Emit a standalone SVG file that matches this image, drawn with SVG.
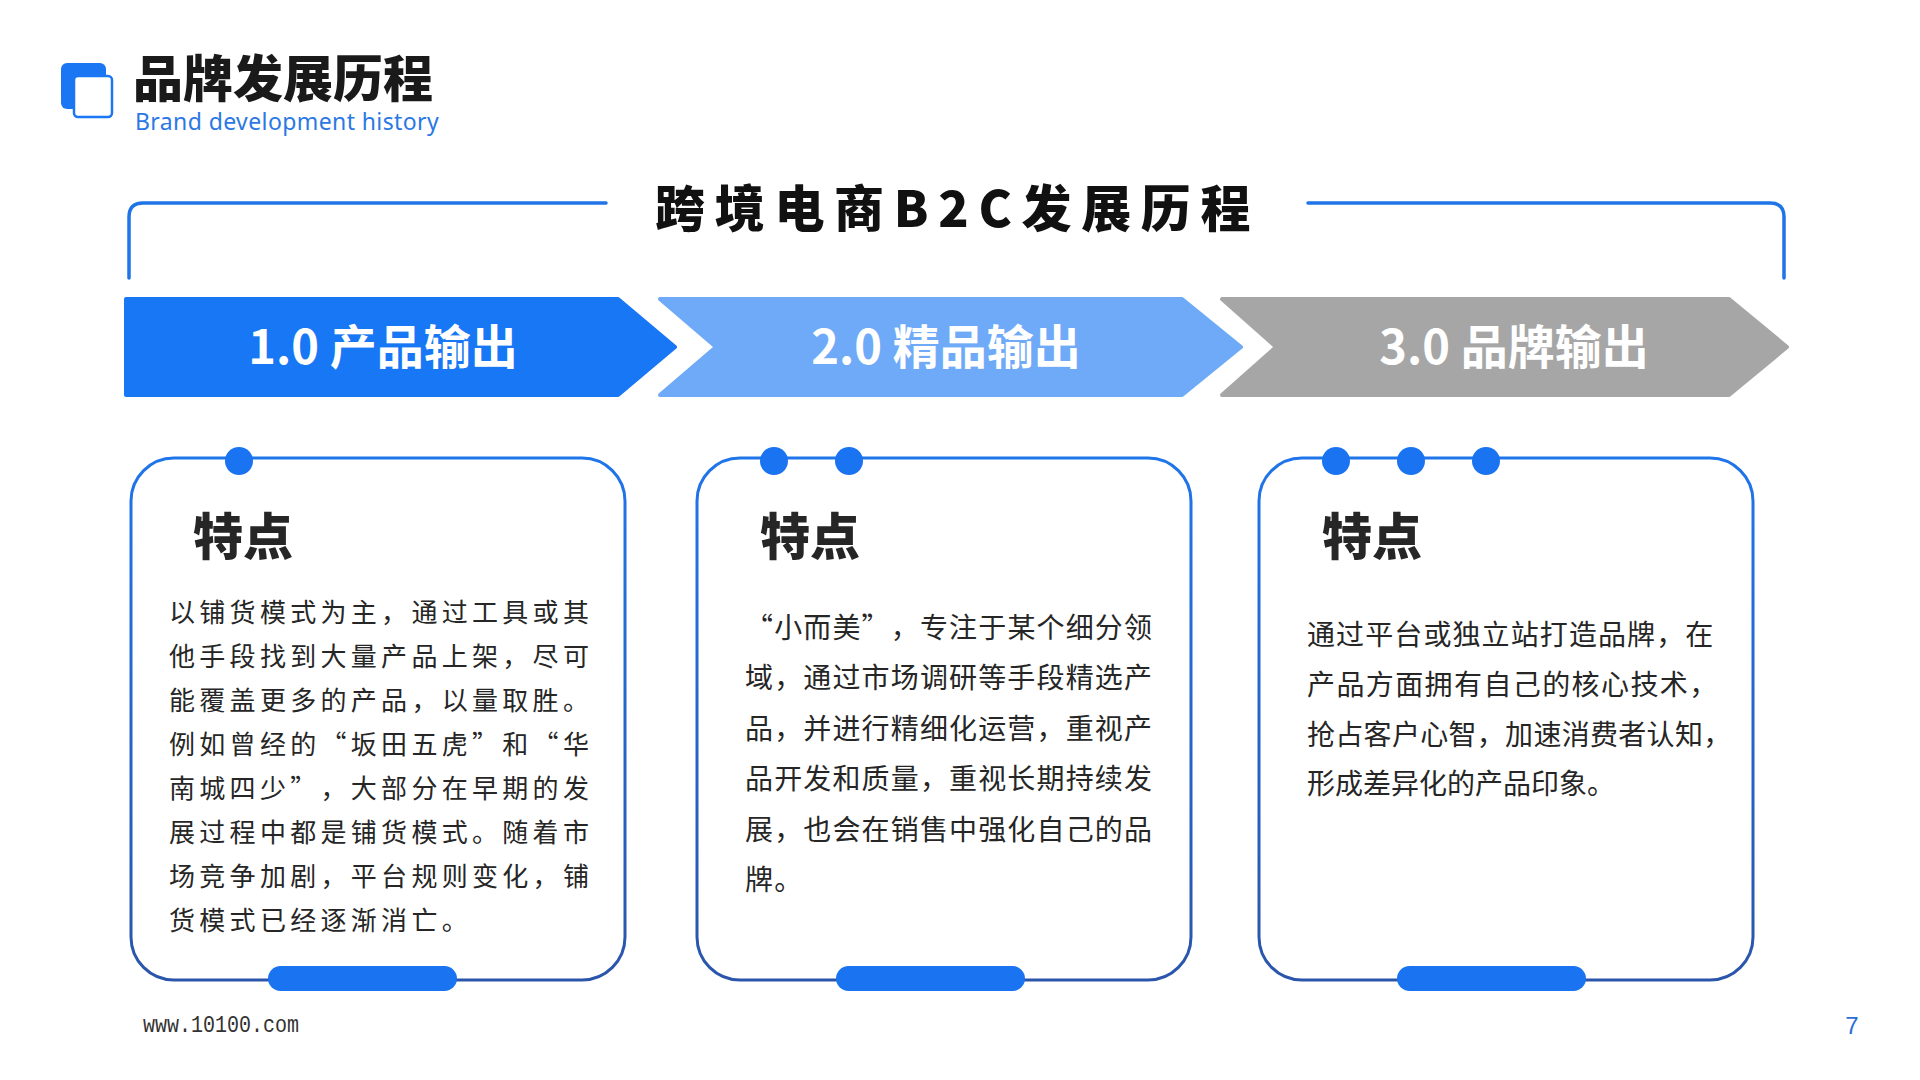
<svg xmlns="http://www.w3.org/2000/svg" width="1920" height="1080" viewBox="0 0 1920 1080">
  <defs>
    <linearGradient id="cardStroke" x1="0" y1="0" x2="0" y2="1">
      <stop offset="0" stop-color="#1f75ea"/>
      <stop offset="1" stop-color="#2b55aa"/>
    </linearGradient>
    <style>
      text { text-spacing-trim: space-all; }
      .cjk { font-family: "Noto Sans CJK SC", "Noto Sans", sans-serif; }
      .card { fill: #ffffff; stroke: url(#cardStroke); stroke-width: 3; }
      .dot { fill: #1a73f0; }
      .pill { fill: #1a73f0; }
      .head { font-family: "Noto Sans CJK SC", sans-serif; font-weight: 900; font-size: 50px; fill: #262626; }
      .body1 { font-family: "Noto Sans CJK SC", sans-serif; font-weight: 400; font-size: 26px; fill: #262626; letter-spacing: 4.3px; }
      .body2 { font-family: "Noto Sans CJK SC", sans-serif; font-weight: 400; font-size: 28px; fill: #262626; letter-spacing: 1.15px; }
      .body3 { font-family: "Noto Sans CJK SC", sans-serif; font-weight: 400; font-size: 28px; fill: #262626; }
      .arrowLabel { font-family: "Noto Sans CJK SC", sans-serif; font-weight: 700; font-size: 47px; fill: #ffffff; text-anchor: middle; }
      .bracket { fill: none; stroke: #1f75e8; stroke-width: 3.5; stroke-linecap: round; }
    </style>
  </defs>

  <rect x="0" y="0" width="1920" height="1080" fill="#ffffff"/>

  <!-- Header -->
  <g id="header">
    <rect x="61" y="63" width="45" height="46" rx="6" fill="#1a76f2"/>
    <rect x="74" y="76" width="38" height="41" rx="4" fill="#ffffff" stroke="#1a76f2" stroke-width="2.5"/>
    <text x="133" y="97" class="cjk" font-size="50" font-weight="900" fill="#1a1a1a">品牌发展历程</text>
    <text x="135" y="130" font-family="'Noto Sans', 'Open Sans', sans-serif" font-size="23" letter-spacing="0.4" fill="#2b78e4">Brand development history</text>
  </g>

  <!-- Title with bracket -->
  <g id="title">
    <text x="655" y="227" class="cjk" font-size="50" font-weight="900" fill="#111111" letter-spacing="9.7">跨境电商B2C发展历程</text>
  </g>
  <g id="connectors">
    <path class="bracket" d="M 606 203 H 143 Q 129 203 129 217 V 278"/>
    <path class="bracket" d="M 1308 203 H 1770 Q 1784 203 1784 217 V 278"/>
  </g>

  <!-- Stage arrows -->
  <g id="stage1">
    <polygon points="126,299 618,299 675,347 618,395 126,395" fill="#1877f5" stroke="#1877f5" stroke-width="4" stroke-linejoin="round"/>
    <text x="383" y="364" class="arrowLabel">1.0 产品输出</text>
  </g>
  <g id="stage2">
    <polygon points="660,299 1182,299 1241,347 1182,395 660,395 716,347" fill="#6eaaf7" stroke="#6eaaf7" stroke-width="4" stroke-linejoin="round"/>
    <text x="946" y="364" class="arrowLabel">2.0 精品输出</text>
  </g>
  <g id="stage3">
    <polygon points="1222,299 1729,299 1787,347 1729,395 1222,395 1276,347" fill="#a6a6a6" stroke="#a6a6a6" stroke-width="4" stroke-linejoin="round"/>
    <text x="1514" y="364" class="arrowLabel">3.0 品牌输出</text>
  </g>

  <!-- Card 1 -->
  <g id="card1">
    <rect class="card" x="131" y="458" width="494" height="522" rx="43"/>
    <circle class="dot" cx="239" cy="461" r="14"/>
    <rect class="pill" x="268" y="966" width="189" height="25" rx="12.5"/>
    <text x="193" y="555" class="head">特点</text>
    <text class="body1" x="169" y="622">以铺货模式为主，通过工具或其</text>
    <text class="body1" x="169" y="666">他手段找到大量产品上架，尽可</text>
    <text class="body1" x="169" y="710">能覆盖更多的产品，以量取胜。</text>
    <text class="body1" x="169" y="754">例如曾经的“坂田五虎”和“华</text>
    <text class="body1" x="169" y="798">南城四少”<tspan x="320.5">，大部分在早期的发</tspan></text>
    <text class="body1" x="169" y="842">展过程中都是铺货模式。随着市</text>
    <text class="body1" x="169" y="886">场竞争加剧，平台规则变化，铺</text>
    <text class="body1" x="169" y="930">货模式已经逐渐消亡。</text>
  </g>

  <!-- Card 2 -->
  <g id="card2">
    <rect class="card" x="697" y="458" width="494" height="522" rx="43"/>
    <circle class="dot" cx="774" cy="461" r="14"/>
    <circle class="dot" cx="849" cy="461" r="14"/>
    <rect class="pill" x="836" y="966" width="189" height="25" rx="12.5"/>
    <text x="760" y="555" class="head">特点</text>
    <text class="body2" x="745" y="638">“小而美”<tspan x="890.8">，专注于某个细分领</tspan></text>
    <text class="body2" x="745" y="688">域，通过市场调研等手段精选产</text>
    <text class="body2" x="745" y="739">品，并进行精细化运营，重视产</text>
    <text class="body2" x="745" y="789">品开发和质量，重视长期持续发</text>
    <text class="body2" x="745" y="840">展，也会在销售中强化自己的品</text>
    <text class="body2" x="745" y="890">牌。</text>
  </g>

  <!-- Card 3 -->
  <g id="card3">
    <rect class="card" x="1259" y="458" width="494" height="522" rx="43"/>
    <circle class="dot" cx="1336" cy="461" r="14"/>
    <circle class="dot" cx="1411" cy="461" r="14"/>
    <circle class="dot" cx="1486" cy="461" r="14"/>
    <rect class="pill" x="1397" y="966" width="189" height="25" rx="12.5"/>
    <text x="1322" y="555" class="head">特点</text>
    <text class="body3" x="1307" y="645" letter-spacing="1.1">通过平台或独立站打造品牌，在</text>
    <text class="body3" x="1307" y="695" letter-spacing="1.4">产品方面拥有自己的核心技术，</text>
    <text class="body3" x="1307" y="745" letter-spacing="0.3">抢占客户心智，加速消费者认知，</text>
    <text class="body3" x="1307" y="794">形成差异化的产品印象。</text>
  </g>

  <!-- Footer -->
  <g id="footer">
    <text x="143" y="1032" font-family="'Liberation Mono', 'DejaVu Sans Mono', monospace" font-size="23" fill="#333333" textLength="156" lengthAdjust="spacingAndGlyphs">www.10100.com</text>
    <text x="1852" y="1034" font-family="'Liberation Sans', Arial, sans-serif" font-size="24" fill="#2a6fd6" text-anchor="middle">7</text>
  </g>
</svg>
